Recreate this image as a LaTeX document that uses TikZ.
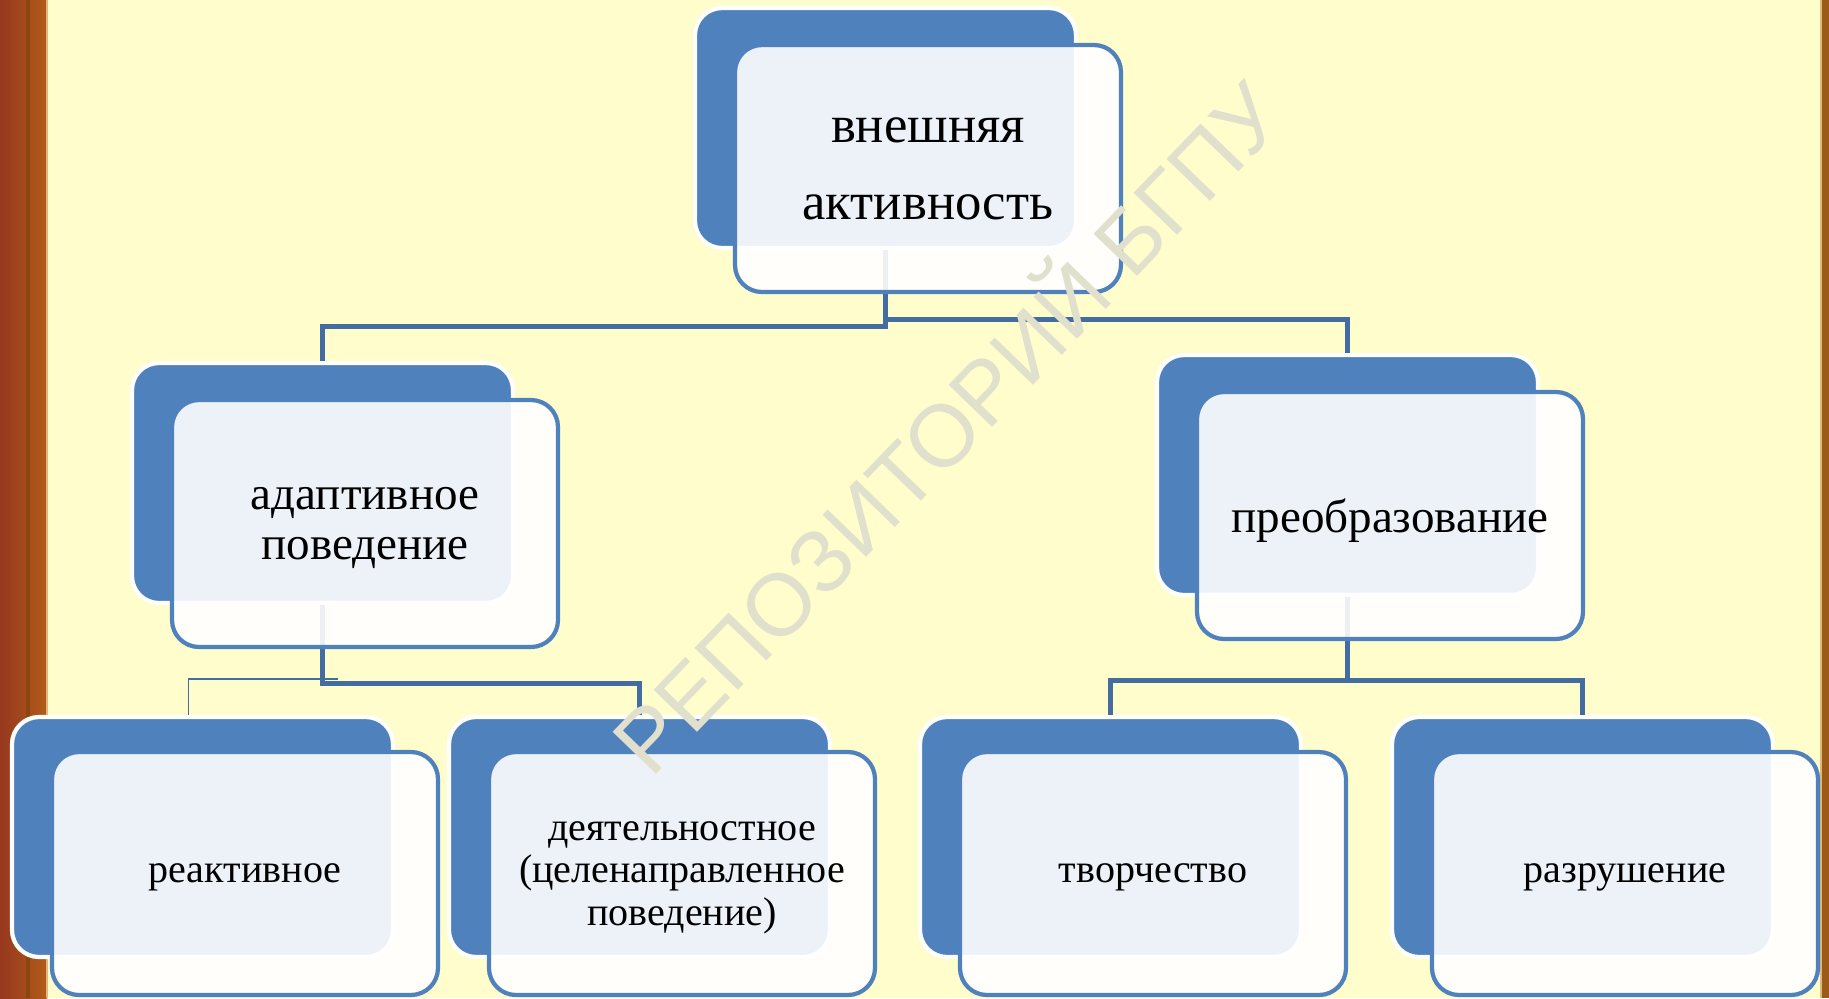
\documentclass[tikz,border=0pt]{standalone}
\usepackage{fontspec}
\setmainfont{Liberation Serif}
\newfontfamily\wmfont{Liberation Sans}
\usetikzlibrary{positioning}
\definecolor{bgyellow}{RGB}{255,253,204}
\definecolor{boxblue}{RGB}{79,129,189}
\definecolor{linkblue}{RGB}{67,109,161}
\definecolor{wmgray}{RGB}{224,224,204}
\definecolor{woodleft}{RGB}{150,55,30}
\definecolor{woodright}{RGB}{178,92,25}
\definecolor{wooddark}{RGB}{135,72,15}
\definecolor{woodlight}{RGB}{222,185,120}
\definecolor{woodedge}{RGB}{155,90,24}

\begin{document}
\begin{tikzpicture}[
    backbox/.style={rectangle, rounded corners=0.27cm, fill=boxblue, draw=white,
        line width=1.2pt, minimum width=3.81cm, minimum height=2.40cm, inner sep=0pt},
    frontbox/.style={rectangle, rounded corners=0.27cm, fill=white, fill opacity=0.9,
        draw=boxblue, draw opacity=1, text opacity=1, line width=1.2pt,
        minimum width=3.86cm, minimum height=2.47cm, align=center, inner sep=0pt,
        text depth=0pt},
    lowbox/.style={frontbox, minimum height=2.43cm},
    link/.style={draw=linkblue, line width=1.4pt},
    thinlink/.style={draw=linkblue, line width=0.5pt},
    toptext/.style={font=\fontsize{15}{22}\selectfont},
    midtext/.style={font=\fontsize{13.4}{14.3}\selectfont},
    lowtext/.style={font=\fontsize{11.4}{12}\selectfont}
]
% background and frame
\fill[bgyellow] (0,0) rectangle (18.29,-9.98);
\useasboundingbox (0,0) rectangle (18.29,-9.98);
\shade[left color=woodleft, right color=woodright] (0,0) rectangle (0.47,-9.98);
\draw[wooddark, line width=1pt] (0.28,0) -- (0.28,-9.98);
\draw[woodlight, line width=0.6pt] (0.47,0) -- (0.47,-9.98);
\fill[woodedge] (18.21,0) rectangle (18.29,-9.98);
\draw[woodlight, line width=0.6pt] (18.21,0) -- (18.21,-9.98);

% back boxes
\node (vneshB) at (8.855,-1.28) [backbox] {};
\node (adaptB) at (3.225,-4.83) [backbox] {};
\node (preobB) at (13.475,-4.75) [backbox] {};
\node (reactB) at (2.025,-8.37) [backbox] {};
\node (deyatB) at (6.395,-8.37) [backbox] {};
\node (tvorB) at (11.105,-8.37) [backbox] {};
\node (razrB) at (15.825,-8.37) [backbox] {};

% connectors
\draw[link] (vneshB.south) -- ++(0,-0.76) -| (adaptB.north);
\draw[link] (vneshB.south) -- ++(0,-0.69) -| (preobB.north);
\draw[link] (adaptB.south) -- ++(0,-0.78) -| (deyatB.north);
\draw[thinlink] ([shift={(0.15,-0.74)}]adaptB.south) -| ([xshift=-0.14cm]reactB.north);
\draw[link] (preobB.south) -- ++(0,-0.83) -| (tvorB.north);
\draw[link] (preobB.south) -- ++(0,-0.83) -| (razrB.north);

% front boxes
\node (vnesh) at ([shift={(0.425,-0.405)}]vneshB) [frontbox, toptext] {внешняя\\активность};
\node (adapt) at ([shift={(0.425,-0.405)}]adaptB) [frontbox, midtext] {адаптивное\\поведение};
\node (preob) at ([shift={(0.425,-0.405)}]preobB) [frontbox, midtext] {преобразование};
\node (react) at ([shift={(0.425,-0.365)}]reactB) [lowbox, lowtext] {реактивное};
\node (deyat) at ([shift={(0.425,-0.365)}]deyatB) [lowbox, lowtext] {деятельностное\\(целенаправленное\\поведение)};
\node (tvor) at ([shift={(0.425,-0.365)}]tvorB) [lowbox, lowtext] {творчество};
\node (razr) at ([shift={(0.425,-0.365)}]razrB) [lowbox, lowtext] {разрушение};

% watermark
\node (wm) at (9.42,-4.23) [rotate=46, text=wmgray, font=\wmfont\fontsize{25}{25}\selectfont] {РЕПОЗИТОРИЙ БГПУ};
\end{tikzpicture}
\end{document}
